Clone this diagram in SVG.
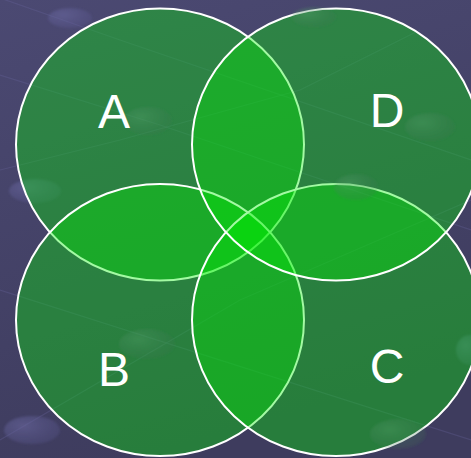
<svg xmlns="http://www.w3.org/2000/svg" width="471" height="458" viewBox="0 0 471 458">
  <defs>
    <linearGradient id="bg" x1="0" y1="0" x2="0.3" y2="1">
      <stop offset="0" stop-color="#4b4972"/>
      <stop offset="1" stop-color="#3e3c5e"/>
    </linearGradient>
    <radialGradient id="spot" cx="0.35" cy="0.35" r="0.7">
      <stop offset="0" stop-color="#6a68a0" stop-opacity="0.6"/>
      <stop offset="1" stop-color="#5a5890" stop-opacity="0.3"/>
    </radialGradient>
    <radialGradient id="gspot" cx="0.35" cy="0.35" r="0.7">
      <stop offset="0" stop-color="#5aa070" stop-opacity="0.35"/>
      <stop offset="1" stop-color="#3a7050" stop-opacity="0.2"/>
    </radialGradient>
    <filter id="soft" x="-20%" y="-20%" width="140%" height="140%">
      <feGaussianBlur stdDeviation="1.2"/>
    </filter>
  </defs>
  <style>
    .set { fill: #00f000; fill-opacity: 0.36; stroke: #ffffff; stroke-width: 2; }
    .lbl { font-family: "Liberation Sans", Arial, sans-serif; font-size: 48px; fill: #ffffff; text-anchor: middle; }
    .tex { stroke: #6a68a0; stroke-opacity: 0.3; stroke-width: 1.2; fill: none; }
  </style>
  <rect width="471" height="458" fill="url(#bg)"/>
  <g id="texture">
    <path class="tex" d="M0 -2 L120 40 L471 160"/>
    <path class="tex" d="M0 75 L160 125 L471 230"/>
    <path class="tex" d="M0 290 L471 440"/>
    <path class="tex" d="M0 170 L120 140 L300 90 L420 30"/>
    <path class="tex" d="M0 440 L120 370 L240 300 L471 200"/>
    <ellipse cx="70" cy="18" rx="22" ry="10" fill="url(#spot)" filter="url(#soft)"/>
    <ellipse cx="35" cy="191" rx="26" ry="12" fill="url(#spot)" filter="url(#soft)"/>
    <ellipse cx="32" cy="430" rx="28" ry="14" fill="url(#spot)" filter="url(#soft)"/>
    <ellipse cx="470" cy="350" rx="14" ry="15" fill="url(#spot)" filter="url(#soft)"/>
  </g>
  <g id="connectors"/>
  <g id="A"><ellipse class="set" cx="160" cy="144.5" rx="144" ry="136"/></g>
  <g id="B"><ellipse class="set" cx="160" cy="320" rx="144" ry="136"/></g>
  <g id="C"><ellipse class="set" cx="336" cy="320" rx="144" ry="136"/></g>
  <g id="D"><ellipse class="set" cx="336" cy="144.5" rx="144" ry="136"/></g>
  <g id="spots">
    <ellipse cx="148" cy="121" rx="24" ry="14" fill="url(#gspot)" filter="url(#soft)"/>
    <ellipse cx="147" cy="344" rx="28" ry="15" fill="url(#gspot)" filter="url(#soft)"/>
    <ellipse cx="430" cy="127" rx="25" ry="14" fill="url(#gspot)" filter="url(#soft)"/>
    <ellipse cx="356" cy="187" rx="22" ry="13" fill="url(#gspot)" filter="url(#soft)"/>
    <ellipse cx="398" cy="434" rx="28" ry="15" fill="url(#gspot)" filter="url(#soft)"/>
    <ellipse cx="314" cy="17" rx="22" ry="10" fill="url(#gspot)" filter="url(#soft)"/>
  </g>
  <g id="labels">
    <text class="lbl" x="114" y="128">A</text>
    <text class="lbl" x="114" y="386">B</text>
    <text class="lbl" x="387" y="383">C</text>
    <text class="lbl" x="387" y="127">D</text>
  </g>
</svg>
